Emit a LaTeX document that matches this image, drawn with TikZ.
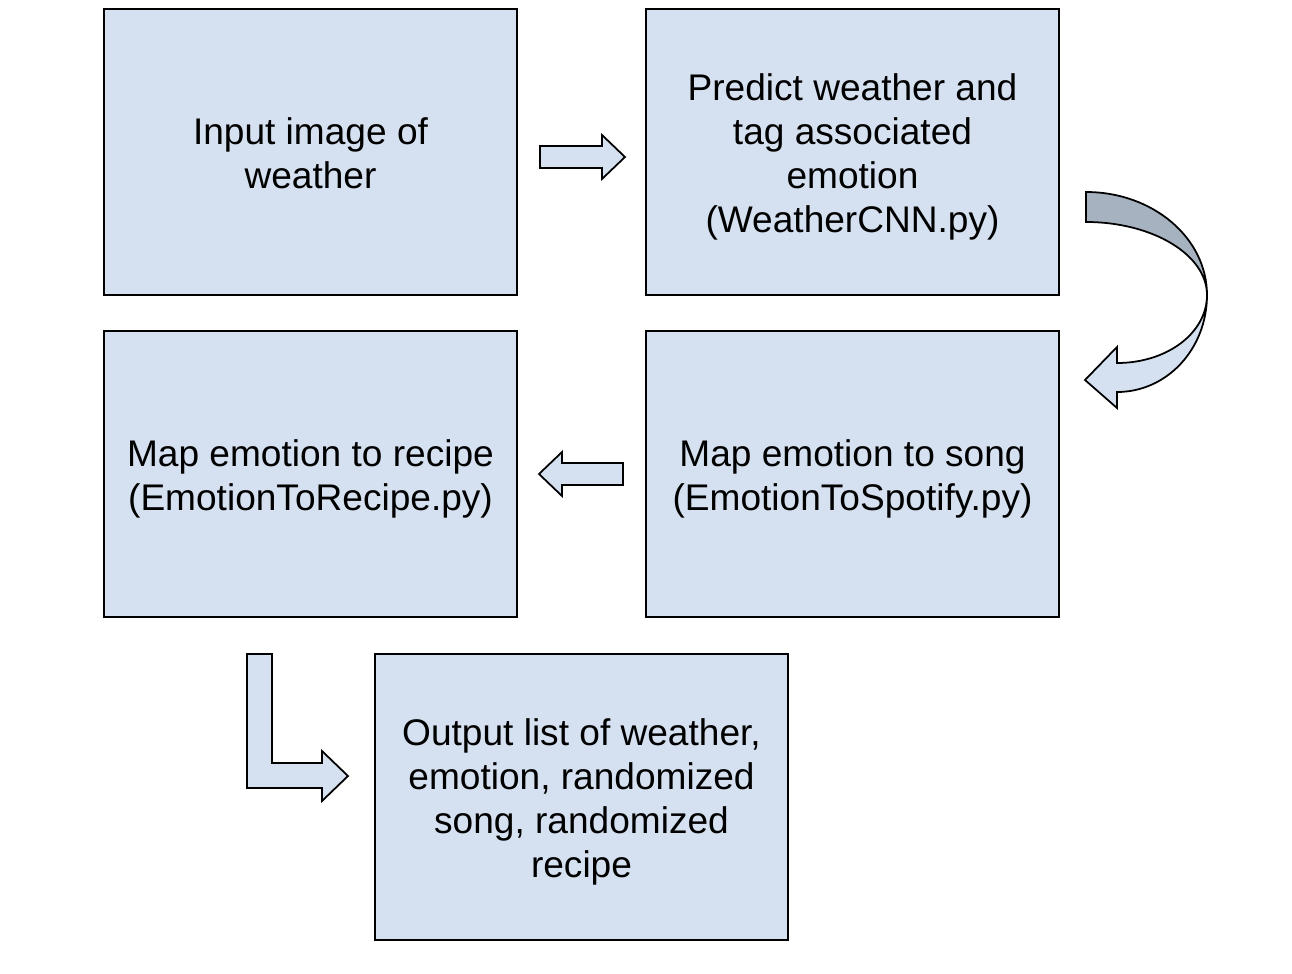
\documentclass[tikz,border=0pt]{standalone}
\usepackage{fontspec}
\setmainfont{Liberation Sans}
\definecolor{boxblue}{RGB}{213,225,240}
\definecolor{ribbongray}{RGB}{167,178,193}
\tikzset{
	stepbox/.style={draw,line width=1pt,fill=boxblue,inner sep=0pt,
		minimum width=8.26cm,minimum height=5.72cm},
	steptext/.style={align=center,inner sep=0pt,yshift=-0.1cm,
		font=\fontsize{21.1pt}{24.9pt}\selectfont},
	blockarrow/.style={draw,line width=1pt,fill=boxblue,line join=miter}
}
\begin{document}
\begin{tikzpicture}[x=0.02cm,y=-0.02cm]
		%Page
			\useasboundingbox[fill=white] (0,0) rectangle (1292,974);
		%Boxes
			\node[stepbox] (input) at (310.5,152) {};
			\node[stepbox] (predict) at (852.5,152) {};
			\node[stepbox] (song) at (852.5,474) {};
			\node[stepbox] (recipe) at (310.5,474) {};
			\node[stepbox] (output) at (581.5,797) {};
		%Texts
			\node[steptext,yshift=0.08cm] (inputtext) at (input.center) {Input image of\\weather};
			\node[steptext] (predicttext) at (predict.center) {Predict weather and\\tag associated\\emotion\\(WeatherCNN.py)};
			\node[steptext] (songtext) at (song.center) {Map emotion to song\\(EmotionToSpotify.py)};
			\node[steptext] (recipetext) at (recipe.center) {Map emotion to recipe\\(EmotionToRecipe.py)};
			\node[steptext] (outputtext) at (output.center) {Output list of weather,\\emotion, randomized\\song, randomized\\recipe};
		%Right arrow
			\draw[blockarrow] (540,146) -- (602,146) -- (602,135) -- (625,157) -- (602,179) -- (602,168) -- (540,168) -- cycle;
		%Curved arrow, back
			\draw[blockarrow,fill=ribbongray] (1086,192) .. controls (1153,192) and (1207,238) .. (1207,295)
				.. controls (1207,255) and (1153,222) .. (1086,222) -- cycle;
		%Curved arrow, front
			\draw[blockarrow] (1207,295) .. controls (1207,333) and (1167,363) .. (1117,363)
				-- (1117,347) -- (1085,380) -- (1117,408) -- (1117,392)
				.. controls (1167,392) and (1207,349) .. (1207,295) -- cycle;
		%Left arrow
			\draw[blockarrow] (623,463) -- (562,463) -- (562,452) -- (539,474) -- (562,496) -- (562,485) -- (623,485) -- cycle;
		%Bent arrow
			\draw[blockarrow] (247,654) -- (272,654) -- (272,763) -- (322,763) -- (322,751) -- (348,776)
				-- (322,801) -- (322,788) -- (247,788) -- cycle;
	\end{tikzpicture}
\end{document}
